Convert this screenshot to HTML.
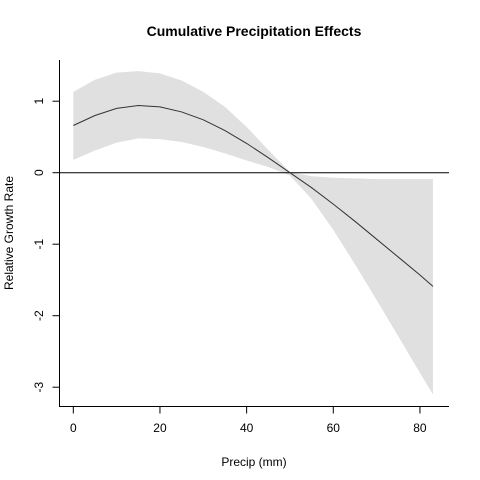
<!DOCTYPE html>
<html><head><meta charset="utf-8"><style>body{margin:0;background:#fff}svg{display:block;font-family:"Liberation Sans",Arial,sans-serif}</style></head>
<body>
<svg id="chart" width="480" height="480" viewBox="0 0 480 480">
<rect width="480" height="480" fill="#fff"/>
<text x="254" y="36" text-anchor="middle" font-size="14" font-weight="bold">Cumulative Precipitation Effects</text>
<text x="254" y="466" text-anchor="middle" font-size="12">Precip (mm)</text>
<text transform="translate(13,233) rotate(-90)" text-anchor="middle" font-size="12">Relative Growth Rate</text>
<g id="plot"></g>
</svg>
<script>
const xs = [0,5,10,15,20,25,30,35,40,45,50,55,60,65,70,75,80,83];
const fit = [0.66,0.80,0.90,0.94,0.92,0.85,0.74,0.59,0.41,0.21,0.0,-0.21,-0.44,-0.68,-0.93,-1.18,-1.43,-1.59];
const upper = [1.13,1.30,1.40,1.42,1.39,1.29,1.13,0.92,0.64,0.32,0.01,-0.05,-0.07,-0.08,-0.09,-0.09,-0.09,-0.09];
const lower = [0.18,0.31,0.42,0.48,0.47,0.43,0.36,0.27,0.17,0.08,-0.04,-0.37,-0.80,-1.28,-1.78,-2.29,-2.80,-3.10];
const xTicks = [0,20,40,60,80];
const yTicks = [1,0,-1,-2,-3];
const NS = "http://www.w3.org/2000/svg";
const g = document.getElementById('plot');
function sx(v){return 73.3 + v*4.333;}
function sy(v){return 172.7 - v*71.5;}
function mk(tag, attrs){const e=document.createElementNS(NS,tag);for(const k in attrs)e.setAttribute(k,attrs[k]);g.appendChild(e);return e;}
// band
let d = xs.map((x,i)=>(i?'L':'M')+sx(x)+','+sy(upper[i])).join(' ');
for(let i=xs.length-1;i>=0;i--) d += ' L'+sx(xs[i])+','+sy(lower[i]);
const band = mk('path',{d:d+' Z',fill:'#e0e0e0',stroke:'none'});


// zero line
const z = mk('line',{x1:59,x2:449,y1:sy(0),y2:sy(0),stroke:'#000','stroke-width':1});


// fit line
const ln = mk('path',{d:xs.map((x,i)=>(i?'L':'M')+sx(x)+','+sy(fit[i])).join(' '),fill:'none',stroke:'#333','stroke-width':1});


// axes
const xa = mk('line',{x1:59,x2:449,y1:406.5,y2:406.5,stroke:'#000'});


const ya = mk('line',{x1:59.5,x2:59.5,y1:60,y2:406.5,stroke:'#000'});


xTicks.forEach(t=>{
  const tk = mk('line',{x1:sx(t),x2:sx(t),y1:406.5,y2:413.5,stroke:'#000'});
  
  
  const tx = mk('text',{x:sx(t),y:432,'text-anchor':'middle','font-size':12});
  tx.textContent = t;
  
  
});
yTicks.forEach(t=>{
  const tk = mk('line',{x1:52.5,x2:59.5,y1:sy(t),y2:sy(t),stroke:'#000'});
  
  
  const tx = mk('text',{transform:'translate(43,'+sy(t)+') rotate(-90)','text-anchor':'middle','font-size':12});
  tx.textContent = t;
  
  
});
</script>
</body></html>
